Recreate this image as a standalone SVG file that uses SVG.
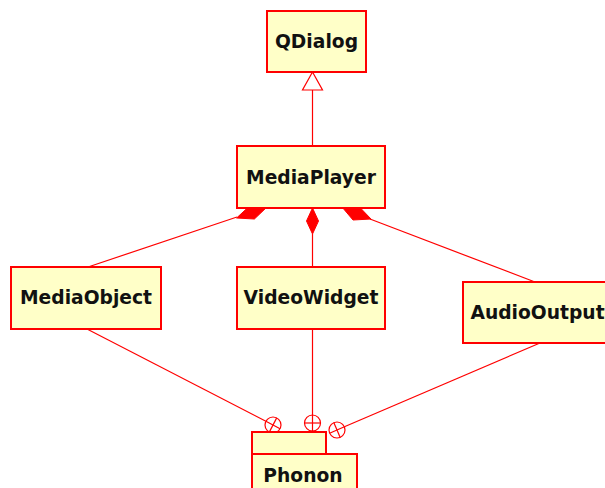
<svg xmlns="http://www.w3.org/2000/svg" width="605" height="488" viewBox="0 0 605 488">
<style>
.box{fill:#ffffc8;stroke:#ff0000;stroke-width:2}
.lbl{font-family:"DejaVu Sans",sans-serif;font-weight:bold;font-size:18.7px;fill:#111;text-anchor:middle}
.ln{stroke:#ff0000;stroke-width:1.2;fill:none}
.dia{fill:#ff0000;stroke:#ff0000;stroke-width:1}
.circ{fill:none;stroke:#ff0000;stroke-width:1.2}
</style>
<rect width="605" height="488" fill="#ffffff"/>
<g id="connectors">
  <!-- generalization -->
  <line class="ln" x1="312.5" y1="90" x2="312.5" y2="147"/>
  <polygon points="312.5,72 302.5,90 322.5,90" fill="#ffffff" stroke="#ff0000" stroke-width="1.2"/>
  <!-- compositions -->
  <line class="ln" x1="88" y1="267" x2="237" y2="217"/>
  <polygon class="dia" points="267,207 249.5,206 236.6,218 254.4,219"/>
  <line class="ln" x1="312.5" y1="234" x2="312.5" y2="267"/>
  <polygon class="dia" points="312.5,208 318.5,221 312.5,234 306.5,221"/>
  <line class="ln" x1="370" y1="219" x2="535" y2="282"/>
  <polygon class="dia" points="342,207 359.5,207 371,219 353,220"/>
  <!-- nesting -->
  <line class="ln" x1="87" y1="329" x2="265.9" y2="421.3"/>
  <g>
    <circle class="circ" cx="273" cy="425" r="8"/>
    <line class="ln" x1="265.9" y1="421.3" x2="280.1" y2="428.7"/>
    <line class="ln" x1="276.7" y1="417.9" x2="269.3" y2="432.1"/>
  </g>
  <line class="ln" x1="312.5" y1="329" x2="312.5" y2="415"/>
  <g>
    <circle class="circ" cx="312.5" cy="423" r="8"/>
    <line class="ln" x1="312.5" y1="415" x2="312.5" y2="431"/>
    <line class="ln" x1="304.5" y1="423" x2="320.5" y2="423"/>
  </g>
  <line class="ln" x1="540" y1="343" x2="344.4" y2="426.8"/>
  <g>
    <circle class="circ" cx="337" cy="430" r="8"/>
    <line class="ln" x1="344.4" y1="426.8" x2="329.6" y2="433.2"/>
    <line class="ln" x1="333.8" y1="422.6" x2="340.2" y2="437.4"/>
  </g>
</g>
<g id="QDialog">
  <rect class="box" x="267" y="11" width="99" height="61"/>
  <text class="lbl" x="316.5" y="48">QDialog</text>
</g>
<g id="MediaPlayer">
  <rect class="box" x="237" y="146" width="148" height="62"/>
  <text class="lbl" x="311" y="184">MediaPlayer</text>
</g>
<g id="MediaObject">
  <rect class="box" x="11" y="267" width="150" height="62"/>
  <text class="lbl" x="86" y="304">MediaObject</text>
</g>
<g id="VideoWidget">
  <rect class="box" x="237" y="267" width="148" height="62"/>
  <text class="lbl" x="311" y="304">VideoWidget</text>
</g>
<g id="AudioOutput">
  <rect class="box" x="463" y="282" width="149" height="61"/>
  <text class="lbl" x="537.5" y="319">AudioOutput</text>
</g>
<g id="Phonon">
  <rect class="box" x="252" y="432" width="74" height="22"/>
  <rect class="box" x="252" y="454" width="105" height="44"/>
  <text class="lbl" x="303" y="482">Phonon</text>
</g>
</svg>
